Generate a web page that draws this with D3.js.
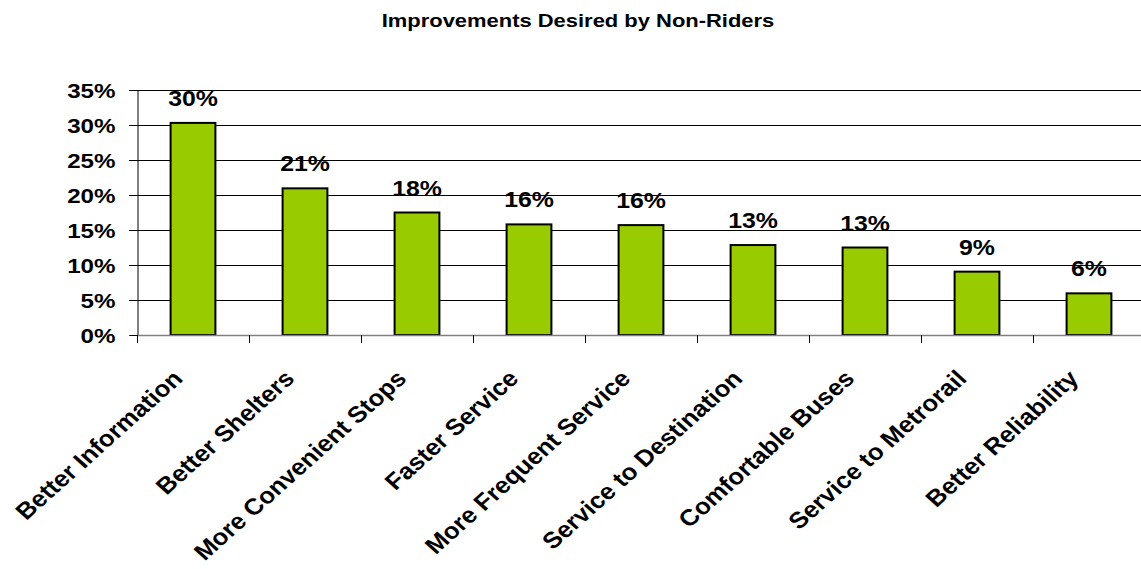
<!DOCTYPE html>
<html>
<head>
<meta charset="utf-8">
<script src="https://cdn.jsdelivr.net/npm/d3@7"></script>
<style>
  body { margin: 0; background: #fff; }
  text { font-family: Arial, "Liberation Sans", sans-serif; font-weight: bold; fill: #000; }
</style>
</head>
<body>
<svg id="chart" width="1141" height="569"></svg>
<script>
// chart data
const categories = ['Better Information', 'Better Shelters', 'More Convenient Stops', 'Faster Service',
  'More Frequent Service', 'Service to Destination', 'Comfortable Buses', 'Service to Metrorail', 'Better Reliability']
const values = [30.3, 20.95, 17.5, 15.8, 15.7, 12.85, 12.5, 9.05, 5.95]
const valueLabels = ['30%', '21%', '18%', '16%', '16%', '13%', '13%', '9%', '6%']
const yTicks = [0, 5, 10, 15, 20, 25, 30, 35]
const title = 'Improvements Desired by Non-Riders'

const svg = d3.select('#chart')
const plotLeft = 137, plotRight = 1145, plotTop = 90, plotBottom = 335
// the original chart is a bit wider than tall, text looks stretched sideways
const stretch = 1.15

const x = d3.scaleBand()
  .domain(categories)
  .range([plotLeft, plotRight])
  .paddingInner(0.6)
  .paddingOuter(0.3)

const y = d3.scaleLinear()
  .domain([0, 35])
  .range([plotBottom, plotTop])

// title
svg.append('text')
  .attr('text-anchor', 'middle')
  .attr('transform', `translate(578,27) scale(1.22,1)`)
  .style('font-size', '18px')
  .text(title)

// gridlines
svg.append('g')
  .selectAll('line')
  .data(yTicks.filter(d => d > 0))
  .enter()
  .append('line')
  .attr('x1', plotLeft - 8)
  .attr('x2', 1141)
  .attr('y1', d => Math.round(y(d)) + 0.5)
  .attr('y2', d => Math.round(y(d)) + 0.5)
  .attr('stroke', '#000')
  .attr('stroke-width', 1)

// y axis
const yAxis = svg.append('g')
  .attr('transform', `translate(${plotLeft + 0.5},0)`)
  .call(d3.axisLeft(y).tickValues(yTicks).tickSize(8).tickFormat(d => d + '%'))
yAxis.select('.domain').attr('stroke', '#000').attr('stroke-width', 1)
yAxis.selectAll('.tick line').attr('stroke', '#000')
yAxis.selectAll('.tick text')
  .attr('x', 0)
  .attr('dy', '0.36em')
  .attr('transform', `translate(-22,0) scale(${stretch},1)`)
  .style('font-size', '21px')
  .style('font-family', 'Arial, "Liberation Sans", sans-serif')
  .style('font-weight', 'bold')

// bars
svg.append('g')
  .selectAll('rect')
  .data(values)
  .enter()
  .append('rect')
  .attr('x', (d, i) => x(categories[i]))
  .attr('y', d => y(d))
  .attr('width', x.bandwidth())
  .attr('height', d => y(0) - y(d))
  .attr('fill', '#99cc00')
  .attr('stroke', '#000')
  .attr('stroke-width', 2)

// x axis baseline and ticks between bands
const step = x.step()
const gap = (step - x.bandwidth()) / 2
svg.append('line')
  .attr('x1', plotLeft).attr('x2', 1141)
  .attr('y1', plotBottom + 0.5).attr('y2', plotBottom + 0.5)
  .attr('stroke', '#808080')
  .attr('stroke-width', 1.5)
svg.append('g')
  .selectAll('line')
  .data(categories)
  .enter()
  .append('line')
  .attr('x1', d => Math.round(x(d) - gap) + 0.5)
  .attr('x2', d => Math.round(x(d) - gap) + 0.5)
  .attr('y1', plotBottom)
  .attr('y2', plotBottom + 8)
  .attr('stroke', '#000')

// value labels
svg.append('g')
  .selectAll('text')
  .data(values)
  .enter()
  .append('text')
  .attr('text-anchor', 'middle')
  .attr('transform', (d, i) => `translate(${x(categories[i]) + x.bandwidth() / 2},${y(d) - 17}) scale(1.13,1)`)
  .style('font-size', '22px')
  .text((d, i) => valueLabels[i])

// category labels
svg.append('g')
  .selectAll('text')
  .data(categories)
  .enter()
  .append('text')
  .attr('text-anchor', 'end')
  .attr('transform', d => `translate(${x(d) + x.bandwidth() / 2 - 9},${plotBottom + 45}) scale(1.12,1) rotate(-45)`)
  .style('font-size', '23px')
  .text(d => d)
</script>
</body>
</html>
